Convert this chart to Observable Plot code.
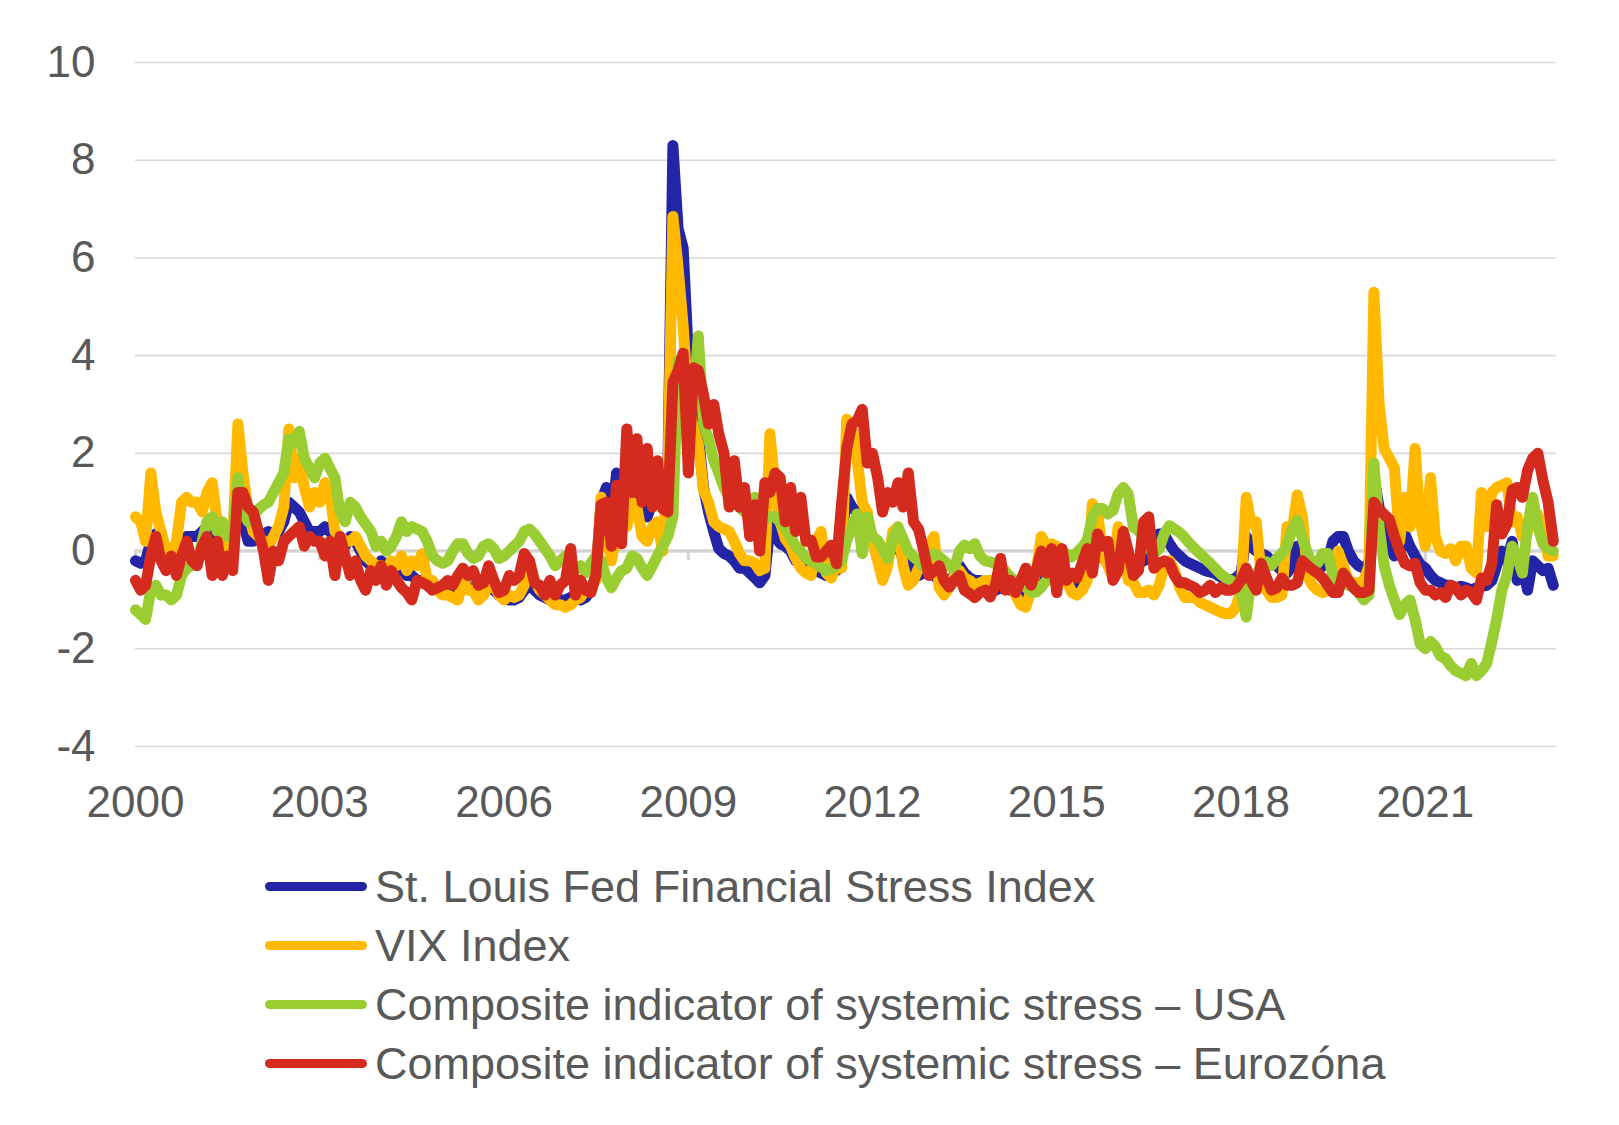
<!DOCTYPE html>
<html>
<head>
<meta charset="utf-8">
<script src="https://cdn.jsdelivr.net/npm/d3@7"></script>
<script src="https://cdn.jsdelivr.net/npm/@observablehq/plot@0.6"></script>
<style>
  html, body { margin: 0; padding: 0; background: #ffffff; }
  body { font-family: "Liberation Sans", Arial, sans-serif; }
  #wrap { position: relative; width: 1619px; height: 1125px; }
  #legend { position: absolute; left: 265px; top: 857px; }
  .row { display: flex; align-items: center; height: 59px; }
  .sw { width: 102px; height: 9px; border-radius: 5px; margin-right: 8px; }
  .lab { font-size: 45px; color: #595959; white-space: nowrap; }
</style>
</head>
<body>
<div id="wrap"><div id="chart"></div><div id="legend"></div></div>
<script>
// Monthly values, January 2000 – February 2023 (one value per month)
const stLouisFSI = [
  -0.2,-0.25,-0.2,0.2,0.35,0.3,0.0,-0.1,0.0,0.2,0.3,0.3,
  0.3,0.4,0.5,0.4,0.2,0.2,0.2,0.3,1.1,0.6,0.2,0.2,
  0.3,0.35,0.4,0.35,0.4,0.6,1.0,0.9,0.8,0.6,0.4,0.4,
  0.4,0.5,0.4,0.3,0.1,0.1,0.3,0.2,0.0,-0.2,-0.3,-0.4,
  -0.2,-0.3,-0.3,-0.4,-0.35,-0.5,-0.5,-0.6,-0.6,-0.7,-0.75,-0.8,
  -0.8,-0.85,-0.75,-0.6,-0.6,-0.75,-0.8,-0.85,-0.8,-0.75,-0.8,-0.9,
  -0.95,-1.0,-1.0,-0.95,-0.8,-0.7,-0.8,-0.9,-0.95,-1.0,-1.0,-1.0,
  -1.0,-0.95,-0.9,-1.0,-0.95,-0.8,-0.5,1.0,1.3,0.5,1.6,1.4,
  1.2,1.55,1.3,0.9,0.7,1.0,1.1,1.0,1.6,8.3,6.6,6.2,
  4.0,3.0,2.4,1.3,0.8,0.4,0.05,-0.05,-0.1,-0.2,-0.35,-0.35,
  -0.45,-0.55,-0.65,-0.5,0.5,0.3,0.15,0.1,0.0,-0.2,-0.25,-0.3,
  -0.3,-0.4,-0.45,-0.5,-0.45,-0.4,0.3,1.1,0.9,0.8,0.6,0.5,
  0.3,0.0,-0.2,-0.1,0.2,0.1,-0.15,-0.3,-0.4,-0.5,-0.45,-0.4,
  -0.5,-0.6,-0.6,-0.6,-0.5,-0.3,-0.45,-0.55,-0.6,-0.6,-0.7,-0.75,
  -0.8,-0.75,-0.75,-0.8,-0.85,-0.9,-0.85,-0.7,-0.6,-0.3,-0.5,-0.45,
  -0.4,-0.45,-0.55,-0.6,-0.65,-0.5,-0.4,0.0,0.0,-0.15,-0.2,-0.1,
  0.15,0.2,-0.1,-0.2,-0.25,-0.2,-0.15,0.1,0.35,0.35,0.15,0.0,
  -0.1,-0.2,-0.25,-0.3,-0.35,-0.4,-0.43,-0.46,-0.53,-0.57,-0.6,-0.55,
  -0.45,0.3,0.1,0.0,-0.05,-0.1,-0.2,-0.3,-0.4,-0.45,-0.3,0.1,
  -0.1,-0.3,-0.35,-0.4,-0.3,-0.2,0.2,0.3,0.3,0.0,-0.2,-0.3,
  -0.35,-0.25,1.5,0.9,0.4,0.1,-0.1,0.0,0.35,0.1,-0.1,-0.27,
  -0.35,-0.5,-0.6,-0.65,-0.7,-0.7,-0.75,-0.72,-0.75,-0.8,-0.75,-0.72,
  -0.7,-0.6,-0.3,0.0,-0.2,0.2,-0.6,-0.3,-0.8,-0.2,-0.3,-0.4,
  -0.35,-0.7
];
const vixIndex = [
  0.7,0.6,0.2,1.6,0.8,0.4,0.0,-0.1,0.2,1.0,1.1,1.0,
  1.0,0.8,1.2,1.4,0.6,0.2,0.0,0.2,2.6,1.6,0.8,0.4,
  0.3,0.2,0.1,0.3,0.5,0.9,2.5,1.5,1.9,1.3,0.9,1.2,
  1.0,1.4,1.2,0.4,0.3,0.2,0.2,0.3,0.1,-0.1,-0.2,-0.3,
  -0.3,-0.4,-0.2,-0.3,-0.1,-0.4,-0.2,-0.3,-0.05,-0.6,-0.6,-0.8,
  -0.9,-0.9,-0.95,-1.0,-0.6,-0.8,-0.8,-1.0,-0.9,-0.7,-0.7,-0.9,
  -1.0,-0.9,-0.95,-0.9,-0.7,-0.2,-0.6,-0.8,-0.9,-1.0,-1.1,-1.1,
  -1.15,-1.1,-1.0,-0.95,-0.8,-0.75,-0.6,1.1,0.35,-0.2,0.35,0.7,
  0.5,1.0,0.9,0.3,0.2,0.5,0.6,0.0,1.5,6.85,5.8,4.6,
  3.0,2.5,2.2,1.25,1.0,0.6,0.5,0.45,0.4,0.2,-0.05,-0.2,
  -0.2,-0.25,-0.4,-0.35,2.4,1.3,0.6,0.25,0.1,-0.15,-0.35,-0.45,
  -0.5,0.2,0.4,-0.45,-0.55,-0.3,-0.35,2.7,2.6,1.9,1.0,0.8,
  0.2,-0.2,-0.6,-0.3,0.4,0.5,-0.3,-0.7,-0.6,-0.35,-0.35,0.1,
  0.3,-0.75,-0.9,-0.75,-0.5,-0.4,-0.55,-0.6,-0.7,-0.65,-0.6,-0.6,
  -0.6,-0.35,-0.4,-0.6,-0.9,-1.1,-1.15,-0.8,-0.4,0.3,0.1,0.15,
  0.1,-0.2,-0.6,-0.85,-0.9,-0.8,-0.6,0.97,0.8,-0.1,-0.3,-0.55,
  0.5,0.3,-0.6,-0.65,-0.85,-0.85,-0.8,-0.9,-0.7,-0.3,-0.2,-0.4,
  -0.75,-0.95,-0.95,-0.95,-1.05,-1.1,-1.15,-1.2,-1.25,-1.28,-1.28,-1.15,
  -0.8,1.1,0.56,0.6,-0.5,-0.8,-0.95,-0.95,-0.9,0.5,0.4,1.15,
  0.7,-0.5,-0.7,-0.8,-0.85,-0.8,-0.7,0.0,-0.3,-0.6,-0.65,-0.65,
  -0.6,-0.3,5.3,3.0,2.1,1.9,1.7,0.2,1.1,0.5,2.1,0.6,
  0.1,1.5,0.3,0.0,-0.05,0.05,-0.2,0.1,0.1,-0.35,-0.45,1.2,
  0.5,1.2,1.3,1.35,1.4,0.6,0.7,0.3,0.4,0.8,0.75,0.5,
  -0.1,-0.1
];
const cissUSA = [
  -1.2,-1.3,-1.4,-0.8,-0.7,-0.9,-0.9,-1.0,-0.9,-0.5,-0.35,-0.3,
  -0.2,0.2,0.6,0.7,0.4,0.6,0.3,0.3,1.5,0.8,0.6,0.7,
  0.85,0.95,1.0,1.2,1.4,1.6,2.3,2.2,2.45,1.9,1.7,1.5,
  1.8,1.9,1.7,1.5,0.8,0.6,1.0,0.9,0.7,0.55,0.4,0.1,
  0.2,0.0,0.1,0.3,0.6,0.4,0.5,0.45,0.4,0.2,-0.1,-0.2,
  -0.25,-0.2,0.0,0.15,0.15,-0.05,-0.15,-0.1,0.1,0.15,0.05,-0.15,
  -0.1,0.0,0.1,0.2,0.4,0.45,0.35,0.2,0.05,-0.1,-0.3,-0.2,
  -0.1,-0.25,-0.35,-0.3,-0.45,-0.25,-0.1,-0.2,-0.55,-0.75,-0.55,-0.4,
  -0.35,-0.1,-0.15,-0.35,-0.5,-0.3,-0.1,0.1,0.3,0.7,3.9,3.0,
  2.8,3.1,4.4,2.6,2.3,1.85,1.6,1.3,1.1,1.0,0.9,0.8,
  1.0,1.1,0.9,0.65,0.7,0.7,0.6,0.45,0.3,0.1,0.0,-0.15,
  -0.2,-0.26,-0.33,-0.4,-0.36,-0.3,-0.2,0.22,0.49,0.76,-0.05,0.7,
  0.29,0.22,0.05,-0.16,0.25,0.49,0.25,0.0,-0.12,-0.2,-0.33,-0.1,
  -0.05,-0.12,-0.2,-0.3,-0.36,0.0,0.12,0.05,0.15,-0.1,-0.2,-0.22,
  -0.26,-0.33,-0.43,-0.53,-0.63,-0.67,-0.74,-0.84,-0.84,-0.74,-0.6,-0.57,
  -0.4,-0.3,-0.05,-0.12,-0.03,0.08,0.22,0.7,0.87,0.87,0.76,0.83,
  1.17,1.3,1.17,0.49,0.42,0.25,0.05,-0.05,0.05,0.35,0.52,0.45,
  0.38,0.27,0.16,0.05,-0.05,-0.15,-0.25,-0.36,-0.47,-0.55,-0.6,-0.72,
  -0.85,-1.35,-0.6,-0.48,-0.3,-0.22,-0.3,-0.15,-0.05,0.1,0.45,0.63,
  0.25,-0.05,-0.3,-0.25,-0.05,-0.05,-0.5,-0.7,-0.6,-0.7,-0.74,-0.85,
  -1.0,-0.9,1.8,0.5,-0.3,-0.7,-1.0,-1.3,-1.1,-1.0,-1.4,-1.9,
  -2.0,-1.85,-1.95,-2.15,-2.2,-2.35,-2.45,-2.5,-2.55,-2.3,-2.55,-2.45,
  -2.3,-1.85,-1.4,-0.8,-0.5,0.1,-0.1,-0.45,0.5,1.1,0.5,0.15,
  0.05,0.0
];
const cissEuro = [
  -0.6,-0.8,-0.7,-0.1,0.3,-0.2,-0.4,-0.1,-0.5,-0.1,0.2,-0.2,
  -0.3,0.1,0.3,-0.5,0.2,-0.5,-0.1,-0.4,1.2,1.2,0.9,0.8,
  0.4,0.0,-0.6,0.0,-0.2,0.2,0.3,0.4,0.5,0.1,0.3,0.2,
  0.2,-0.1,0.2,-0.5,0.3,-0.1,-0.5,-0.2,-0.6,-0.8,-0.4,-0.6,
  -0.3,-0.7,-0.4,-0.6,-0.75,-0.85,-1.0,-0.6,-0.65,-0.7,-0.8,-0.75,
  -0.7,-0.6,-0.7,-0.5,-0.35,-0.5,-0.4,-0.7,-0.65,-0.3,-0.6,-0.85,
  -0.8,-0.5,-0.6,-0.5,-0.05,-0.2,-0.65,-0.7,-0.9,-0.6,-0.9,-0.7,
  -0.6,0.05,-0.9,-0.6,-0.8,-0.85,-0.5,0.95,1.0,0.1,1.35,0.15,
  2.5,1.2,2.3,1.0,2.1,0.9,1.85,0.87,0.8,3.45,3.7,4.05,
  1.6,3.75,3.7,3.2,2.6,3.0,2.4,2.0,0.9,1.85,0.9,1.3,
  0.3,0.95,0.0,1.4,1.2,1.6,1.5,0.6,1.3,0.4,1.1,0.2,
  0.22,-0.12,-0.12,0.0,0.12,-0.26,0.97,2.1,2.6,2.67,2.9,1.8,
  2.0,1.5,0.8,1.2,1.0,1.4,0.9,1.6,0.6,0.45,0.0,-0.5,
  -0.4,-0.3,-0.6,-0.74,-0.6,-0.5,-0.8,-0.87,-0.95,-0.85,-0.8,-0.94,
  -0.7,-0.15,-0.8,-0.6,-0.85,-0.6,-0.35,-0.7,-0.4,0.0,-0.45,0.05,
  -0.85,0.05,-0.6,-0.45,-0.55,-0.25,0.05,-0.45,0.35,0.1,0.2,-0.6,
  -0.4,0.4,0.0,-0.5,-0.4,0.6,0.7,-0.35,-0.25,-0.2,-0.25,-0.5,
  -0.65,-0.65,-0.7,-0.75,-0.85,-0.8,-0.7,-0.85,-0.75,-0.8,-0.8,-0.75,
  -0.6,-0.35,-0.6,-0.8,-0.25,-0.55,-0.8,-0.75,-0.55,-0.7,-0.7,-0.65,
  -0.2,-0.3,-0.38,-0.45,-0.55,-0.7,-0.85,-0.85,-0.45,-0.6,-0.75,-0.85,
  -0.85,-0.8,1.0,0.85,0.75,0.65,0.3,0.0,-0.25,-0.3,-0.25,-0.65,
  -0.8,-0.8,-0.9,-0.85,-0.95,-0.7,-0.75,-0.9,-0.8,-0.85,-1.0,-0.55,
  -0.6,-0.25,0.95,0.35,0.55,1.25,1.3,1.1,1.65,1.9,2.0,1.45,
  1.0,0.2
];

const seriesNames = [
  "St. Louis Fed Financial Stress Index",
  "VIX Index",
  "Composite indicator of systemic stress – USA",
  "Composite indicator of systemic stress – Eurozóna"
];
const seriesValues = [stLouisFSI, vixIndex, cissUSA, cissEuro];
const seriesColors = ["#2424a6", "#ffb900", "#9acd32", "#d52b1e"];
const yearTicks = [2000, 2003, 2006, 2009, 2012, 2015, 2018, 2021];
const yTicks = [-4, -2, 0, 2, 4, 6, 8, 10];

const months = stLouisFSI.map((_, i) => new Date(2000, i, 1));
const tickDates = yearTicks.map(y => new Date(y, 0, 1));

const lineMarks = seriesValues.map((vals, k) =>
  Plot.line(vals.map((v, i) => ({date: months[i], value: v})), {
    x: "date", y: "value",
    stroke: seriesColors[k], strokeWidth: 11,
    strokeLinejoin: "round", strokeLinecap: "round"
  })
);

const chart = Plot.plot({
  width: 1619,
  height: 830,
  marginTop: 62,
  marginBottom: 84,
  marginLeft: 135,
  marginRight: 63,
  style: {fontFamily: "Liberation Sans, Arial, sans-serif", fontSize: "44px", color: "#595959", background: "#ffffff"},
  x: {type: "time", domain: [new Date(2000, 0, 1), new Date(2023, 1, 20)],
      ticks: tickDates, tickFormat: d => String(d.getFullYear()),
      tickSize: 0, tickPadding: 39, label: null},
  y: {domain: [-4, 10], ticks: yTicks, tickFormat: d => String(d),
      tickSize: 0, tickPadding: 40, label: null},
  marks: [
    Plot.ruleY(yTicks.filter(d => d !== 0), {stroke: "#d9d9d9", strokeWidth: 1.6}),
    Plot.ruleY([0], {stroke: "#d4d4d4", strokeWidth: 3.5}),
    Plot.ruleX(tickDates, {y1: 0, y2: -0.2, stroke: "#d4d4d4", strokeWidth: 3}),
    ...lineMarks
  ]
});
document.getElementById("chart").appendChild(chart);

const legend = document.getElementById("legend");
seriesNames.forEach((name, k) => {
  const row = document.createElement("div");
  row.className = "row";
  const sw = document.createElement("div");
  sw.className = "sw";
  sw.style.background = seriesColors[k];
  const lab = document.createElement("span");
  lab.className = "lab";
  lab.textContent = name;
  row.appendChild(sw);
  row.appendChild(lab);
  legend.appendChild(row);
});
</script>
</body>
</html>
